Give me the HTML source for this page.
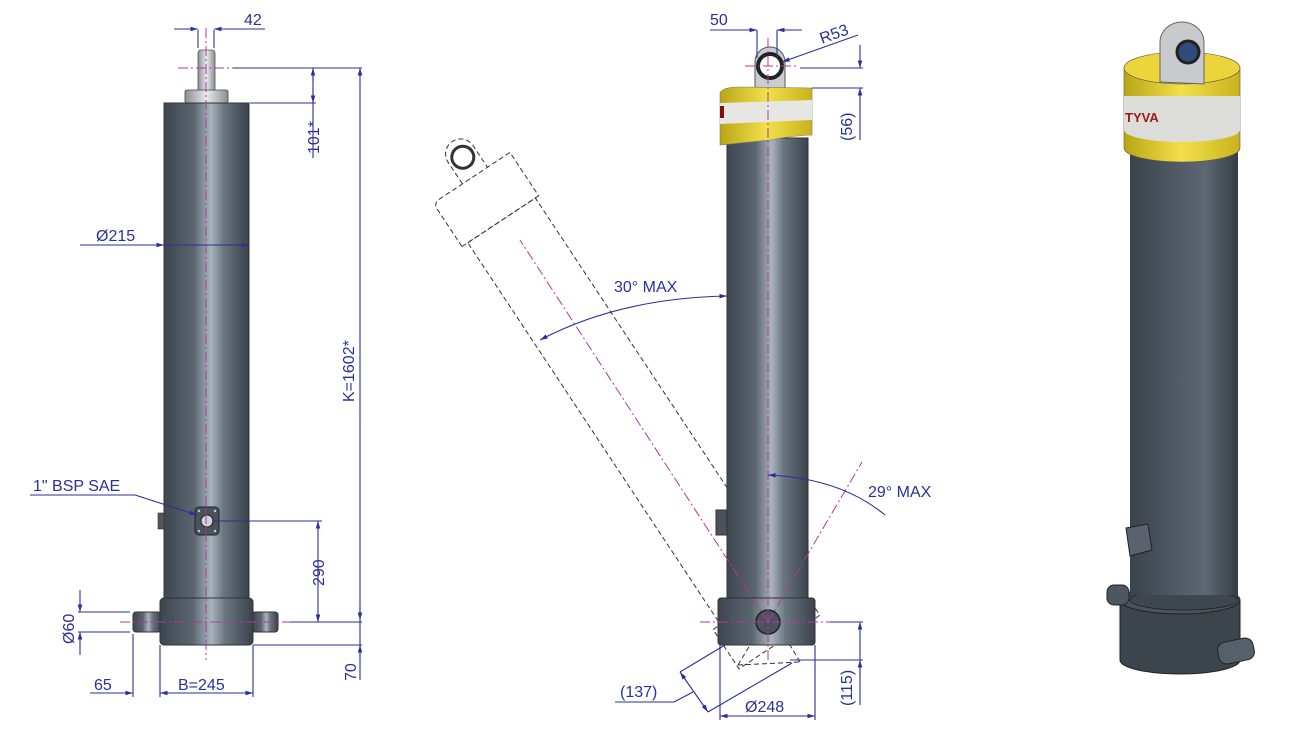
<!DOCTYPE html>
<html><head><meta charset="utf-8"><style>
html,body{margin:0;padding:0;background:#fff;}
svg{display:block;}
text{font-family:"Liberation Sans",Arial,sans-serif;fill:#2a2f9c;font-size:16px;}
</style></head><body>
<svg width="1290" height="738" viewBox="0 0 1290 738" xmlns="http://www.w3.org/2000/svg">
<defs>
<linearGradient id="cyl" x1="0" x2="1" y1="0" y2="0">
<stop offset="0" stop-color="#3e4650"/><stop offset="0.35" stop-color="#5b6570"/><stop offset="0.55" stop-color="#a9b4bf"/><stop offset="0.7" stop-color="#6a7580"/><stop offset="1" stop-color="#3a424b"/>
</linearGradient>
<linearGradient id="cyl3" x1="0" x2="1" y1="0" y2="0">
<stop offset="0" stop-color="#3a424b"/><stop offset="0.4" stop-color="#4f5963"/><stop offset="0.7" stop-color="#5e6872"/><stop offset="1" stop-color="#363d45"/>
</linearGradient>
<linearGradient id="yel" x1="0" x2="1"><stop offset="0" stop-color="#b9a514"/><stop offset="0.5" stop-color="#f2e04a"/><stop offset="1" stop-color="#c9b21c"/></linearGradient>
<linearGradient id="rod" x1="0" x2="1"><stop offset="0" stop-color="#8a8f95"/><stop offset="0.5" stop-color="#e8eaec"/><stop offset="1" stop-color="#8a8f95"/></linearGradient>
<marker id="ar" viewBox="0 0 10 10" refX="10" refY="5" markerWidth="7" markerHeight="7" orient="auto-start-reverse"><path d="M0,2 L10,5 L0,8z" fill="#2a2f9c"/></marker>
</defs>

<!-- LEFT CYLINDER -->
<rect x="198" y="50" width="17" height="45" rx="3" fill="url(#rod)" stroke="#555" stroke-width="0.8"/>
<rect x="185" y="90" width="43" height="13" rx="2" fill="url(#rod)" stroke="#444" stroke-width="0.8"/>
<rect x="164" y="103" width="85" height="497" fill="url(#cyl)" stroke="#333" stroke-width="1"/>
<rect x="158" y="513" width="6" height="16" fill="#555" stroke="#333" stroke-width="0.6"/>
<rect x="133" y="612" width="28" height="20" rx="3" fill="url(#cyl)" stroke="#333"/>
<rect x="252" y="612" width="26" height="20" rx="3" fill="url(#cyl)" stroke="#333"/>
<rect x="160" y="598" width="93" height="47" rx="4" fill="url(#cyl)" stroke="#333"/>
<rect x="195" y="507" width="24" height="28" rx="4" fill="#4a525b" stroke="#222"/>
<circle cx="207" cy="521" r="6" fill="#d0d4d8" stroke="#222"/>
<g fill="#ccc"><circle cx="199" cy="511" r="1.2"/><circle cx="215" cy="511" r="1.2"/><circle cx="199" cy="531" r="1.2"/><circle cx="215" cy="531" r="1.2"/></g>
<line x1="206" y1="28" x2="206" y2="660" stroke="#b03a9a" stroke-width="1" stroke-dasharray="10,3,2,3"/>
<line x1="178" y1="68" x2="235" y2="68" stroke="#b03a9a" stroke-width="1" stroke-dasharray="10,3,2,3"/>
<line x1="120" y1="622" x2="300" y2="622" stroke="#b03a9a" stroke-width="1" stroke-dasharray="10,3,2,3"/>

<g stroke="#2a2f9c" stroke-width="1.1" fill="none">
<line x1="198" y1="30" x2="198" y2="48"/><line x1="214" y1="30" x2="214" y2="48"/>
<line x1="174" y1="29" x2="198" y2="29" marker-end="url(#ar)"/><line x1="240" y1="29" x2="214" y2="29" marker-end="url(#ar)"/><line x1="240" y1="29" x2="265" y2="29"/>
<line x1="233" y1="68" x2="362" y2="68"/><line x1="250" y1="103" x2="316" y2="103"/>
<line x1="313" y1="68" x2="313" y2="158"/><line x1="313" y1="82" x2="313" y2="68" marker-end="url(#ar)"/><line x1="313" y1="88" x2="313" y2="103" marker-end="url(#ar)"/>
<line x1="360" y1="68" x2="360" y2="680" marker-start="url(#ar)"/>
<line x1="360" y1="605" x2="360" y2="620" marker-end="url(#ar)"/>
<line x1="360" y1="660" x2="360" y2="645" marker-end="url(#ar)"/>
<line x1="80" y1="245" x2="164" y2="245" marker-end="url(#ar)"/><line x1="249" y1="245" x2="164" y2="245" marker-start="url(#ar)"/>
<line x1="30" y1="495" x2="135" y2="495"/><line x1="135" y1="495" x2="197" y2="515" marker-end="url(#ar)"/>
<line x1="212" y1="521" x2="322" y2="521"/><line x1="290" y1="622" x2="362" y2="622"/><line x1="253" y1="645" x2="362" y2="645"/>
<line x1="318" y1="521" x2="318" y2="622" marker-start="url(#ar)" marker-end="url(#ar)"/>
<line x1="78" y1="612" x2="130" y2="612"/><line x1="78" y1="632" x2="130" y2="632"/>
<line x1="80" y1="590" x2="80" y2="612" marker-end="url(#ar)"/><line x1="80" y1="655" x2="80" y2="632" marker-end="url(#ar)"/>
<line x1="133" y1="634" x2="133" y2="697"/><line x1="160" y1="645" x2="160" y2="697"/><line x1="253" y1="645" x2="253" y2="697"/>
<line x1="90" y1="693" x2="133" y2="693" marker-end="url(#ar)"/>
<line x1="160" y1="693" x2="253" y2="693" marker-start="url(#ar)" marker-end="url(#ar)"/>
</g>
<text x="244" y="25">42</text>
<text transform="translate(319,154) rotate(-90)">101*</text>
<text transform="translate(354,402) rotate(-90)">K=1602*</text>
<text x="96" y="241">Ø215</text>
<text x="33" y="491">1" BSP SAE</text>
<text transform="translate(324,586) rotate(-90)">290</text>
<text transform="translate(356,681) rotate(-90)">70</text>
<text transform="translate(74,644) rotate(-90)">Ø60</text>
<text x="94" y="690">65</text>
<text x="178" y="690">B=245</text>

<!-- MIDDLE: tilted dashed ghost -->
<g transform="rotate(-33.5 768 622)" stroke="#333" stroke-width="1" fill="none" stroke-dasharray="5,3">
<rect x="727" y="140" width="81" height="458"/>
<path d="M720,140 L720,95 Q720,88 728,88 L812,88 L812,140 Z"/>
<path d="M755,88 L755,62 A15,15 0 0 1 785,62 L785,88"/>
<circle cx="770" cy="66" r="11" stroke-dasharray="none" stroke-width="3"/>
<rect x="718" y="598" width="97" height="47"/>
</g>

<!-- MIDDLE CYLINDER -->
<path d="M755,88 L755,62 A15,15 0 0 1 785,62 L785,88 Z" fill="#c9ccd0" stroke="#555"/>
<circle cx="770" cy="66" r="12" fill="#fff" stroke="#222" stroke-width="4"/>
<rect x="727" y="138" width="81" height="462" fill="url(#cyl)" stroke="#333"/>
<path d="M720,93 Q722,87 740,87 L812,88 L812,135 Q790,136 770,140 L720,145 Z" fill="url(#yel)" stroke="#777" stroke-width="0.6"/>
<path d="M720,103 L812,100 L812,120 L720,124 Z" fill="#e6e6e2"/>
<rect x="720" y="106" width="4" height="12" fill="#8a1010"/>
<rect x="716" y="510" width="11" height="25" fill="#4a525b" stroke="#333"/>
<rect x="718" y="598" width="97" height="47" rx="3" fill="url(#cyl)" stroke="#333"/>
<circle cx="768" cy="622" r="12" fill="#4a525b" stroke="#222" stroke-width="1.5"/>
<g stroke="#333" stroke-dasharray="5,3" fill="none" stroke-width="1">
<path d="M738,665 L750,645 M800,662 L790,645 M738,665 L800,662"/>
</g>
<g stroke="#b03a9a" stroke-width="1" stroke-dasharray="10,3,2,3" fill="none">
<line x1="768" y1="38" x2="768" y2="660"/>
<line x1="745" y1="66" x2="796" y2="66"/>
<line x1="700" y1="622" x2="830" y2="622"/>
<line x1="768" y1="622" x2="862" y2="462"/>
<line x1="768" y1="622" x2="520" y2="240"/>
</g>
<g stroke="#2a2f9c" stroke-width="1.1" fill="none">
<line x1="757" y1="30" x2="757" y2="58"/><line x1="777" y1="30" x2="777" y2="58"/>
<line x1="710" y1="30" x2="757" y2="30" marker-end="url(#ar)"/><line x1="802" y1="30" x2="777" y2="30" marker-end="url(#ar)"/>
<line x1="858" y1="35" x2="782" y2="62" marker-end="url(#ar)"/>
<line x1="800" y1="68" x2="863" y2="68"/><line x1="812" y1="88" x2="863" y2="88"/>
<line x1="860" y1="45" x2="860" y2="68" marker-end="url(#ar)"/><line x1="860" y1="140" x2="860" y2="88" marker-end="url(#ar)"/>
<path d="M540,340 Q620,298 727,296" marker-start="url(#ar)" marker-end="url(#ar)"/>
<path d="M768,475 Q840,478 885,515" marker-start="url(#ar)"/>
<line x1="830" y1="622" x2="863" y2="622"/><line x1="790" y1="660" x2="863" y2="660"/>
<line x1="860" y1="622" x2="860" y2="705" marker-start="url(#ar)"/>
<line x1="860" y1="676" x2="860" y2="660" marker-end="url(#ar)"/>
<line x1="720" y1="645" x2="720" y2="720"/><line x1="815" y1="645" x2="815" y2="720"/>
<line x1="720" y1="716" x2="815" y2="716" marker-start="url(#ar)" marker-end="url(#ar)"/>
<line x1="725" y1="645" x2="680" y2="672"/><line x1="792" y1="663" x2="708" y2="712"/>
<line x1="680" y1="672" x2="708" y2="712" marker-start="url(#ar)" marker-end="url(#ar)"/>
<line x1="615" y1="702" x2="674" y2="702"/><line x1="674" y1="702" x2="693" y2="692"/>
</g>
<text x="710" y="25">50</text>
<text transform="translate(822,44) rotate(-20)">R53</text>
<text transform="translate(852,141) rotate(-90)">(56)</text>
<text x="614" y="292">30° MAX</text>
<text x="868" y="497">29° MAX</text>
<text transform="translate(852,706) rotate(-90)">(115)</text>
<text x="620" y="697">(137)</text>
<text x="745" y="712">Ø248</text>

<!-- RIGHT 3D -->
<path d="M1120,600 L1240,600 L1240,660 A60,14 0 0 1 1120,660 Z" fill="#3c444c" stroke="#222"/>
<ellipse cx="1180" cy="600" rx="60" ry="14" fill="#4a525b" stroke="#222"/>
<rect x="1130" y="140" width="108" height="460" fill="url(#cyl3)"/>
<ellipse cx="1184" cy="600" rx="54" ry="10" fill="#3e464f" stroke="#222" stroke-width="0.8"/>
<rect x="1130" y="520" width="108" height="75" fill="url(#cyl3)"/>
<rect x="1107" y="585" width="22" height="20" rx="7" fill="#4e5760" stroke="#222"/>
<rect x="1218" y="640" width="36" height="22" rx="8" fill="#55606a" stroke="#222" transform="rotate(-12 1236 651)"/>
<path d="M1126,528 L1148,524 L1152,550 L1130,556 Z" fill="#5a636d" stroke="#222"/>
<path d="M1124,68 L1240,68 L1240,148 A58,14 0 0 1 1124,148 Z" fill="url(#yel)" stroke="#555" stroke-width="0.6"/>
<path d="M1124,96 L1240,96 L1240,130 A58,12 0 0 1 1124,130 Z" fill="#dcdcd8"/>
<text x="1125" y="122" style="fill:#a01818;font-weight:bold;font-size:13px">TYVA</text>
<ellipse cx="1182" cy="68" rx="58" ry="16" fill="#ecd53a" stroke="#555" stroke-width="0.6"/>
<path d="M1160,82 L1160,42 A22,20 0 0 1 1204,42 L1204,84 Z" fill="#c8cacd" stroke="#666"/>
<circle cx="1188" cy="52" r="11" fill="#2d4c7a" stroke="#222" stroke-width="3"/>
</svg>
</body></html>
